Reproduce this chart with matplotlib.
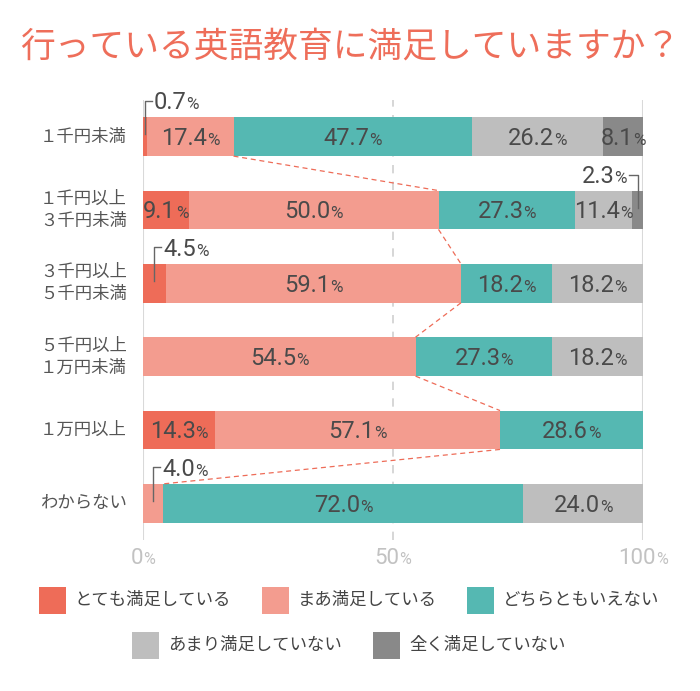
import numpy as np
import matplotlib
matplotlib.use('Agg')
import matplotlib.pyplot as plt
from matplotlib.patches import Rectangle

# data (percent per row, top to bottom)
categories = ['１千円未満', '１千円以上\n３千円未満', '３千円以上\n５千円未満',
              '５千円以上\n１万円未満', '１万円以上', 'わからない']
series_names = ['とても満足している', 'まあ満足している', 'どちらともいえない',
                'あまり満足していない', '全く満足していない']
very_satisfied = [0.7, 9.1, 4.5, 0.0, 14.3, 0.0]
fairly_satisfied = [17.4, 50.0, 59.1, 54.5, 57.1, 4.0]
neutral = [47.7, 27.3, 18.2, 27.3, 28.6, 72.0]
not_really = [26.2, 11.4, 18.2, 18.2, 0.0, 24.0]
not_at_all = [8.1, 2.3, 0.0, 0.0, 0.0, 0.0]
x_ticks = [0, 50, 100]

colors = ['#EE6C58', '#F39C8F', '#55B8B2', '#BEBEBE', '#898989']
title = '行っている英語教育に満足していますか？'

plt.rcParams['font.family'] = ['Noto Sans CJK JP', 'DejaVu Sans']

fig = plt.figure(figsize=(7, 6.91), dpi=100)
ax = fig.add_axes([143 / 700, 151 / 691, 500 / 700, 440 / 691])
ax.set_xlim(0, 100)
ax.set_ylim(5.5, -0.5)
ax.axis('off')

# grid lines at 0 / 50 / 100
ax.axvline(0, color='#D9D9D9', lw=1.5, zorder=0)
ax.axvline(100, color='#D9D9D9', lw=1.5, zorder=0)
ax.axvline(50, color='#CFCFCF', lw=1.2, ls=(0, (5, 5)), zorder=0)

label_color = '#4A4A4A'
pct_texts = []


def pct_label(x, y, num, mode, size, color, xycoords='data'):
    """number followed by a smaller % sign; placed after a first draw"""
    kw = dict(xy=(x, y), xycoords=xycoords, textcoords='offset points',
              va='baseline', ha='left', color=color, family='Roboto',
              zorder=5, annotation_clip=False)
    t1 = ax.annotate(num, xytext=(0, 0), fontsize=size, **kw)
    t2 = ax.annotate('%', xytext=(0, 0), fontsize=size * 0.72, **kw)
    pct_texts.append((t1, t2, mode, size))


bar_h = 0.53
data = [very_satisfied, fairly_satisfied, neutral, not_really, not_at_all]
y = np.arange(len(categories))
left = np.zeros(len(categories))
for vals, col in zip(data, colors):
    vals = np.array(vals)
    ax.barh(y, vals, left=left, height=bar_h, color=col, lw=0, zorder=2)
    for i, v in enumerate(vals):
        if v == 0:
            continue
        cx = left[i] + v / 2
        txt = '%.1f' % v
        if v >= 5:
            pct_label(cx, i, txt, 'center', 17, label_color)
        elif left[i] + v > 99:
            # small segment at right end: bracket up and to the left
            ty = i - 0.48
            ax.plot([cx, cx, cx - 1.8], [i - 0.03, ty, ty], color='#666666', lw=1, zorder=4)
            pct_label(cx - 2.2, ty, txt, 'right', 17, label_color)
        else:
            # small segment at left: bracket up and to the right
            ty = i - 0.49
            ax.plot([cx, cx, cx + 1.4], [i - 0.03, ty, ty], color='#666666', lw=1, zorder=4)
            pct_label(cx + 1.8, ty, txt, 'left', 17, label_color)
    left += vals

# dashed connectors between the "satisfied" totals
cum2 = np.array(very_satisfied) + np.array(fairly_satisfied)
for i in range(len(categories) - 1):
    ax.plot([cum2[i], cum2[i + 1]], [i + bar_h / 2, i + 1 - bar_h / 2],
            color='#EE6C58', lw=0.9, ls=(0, (4, 3)), zorder=3)

# category labels
for i, cat in enumerate(categories):
    ax.text(-3.2, i, cat, ha='right', va='center', fontsize=12.5,
            color='#555555', linespacing=1.3)

# x tick labels
for t in x_ticks:
    pct_label(t, -0.036, str(t), 'center', 16, '#C2C2C2', xycoords=('data', 'axes fraction'))

# title
fig.text(0.5, 1 - 47 / 691, title, ha='center', va='center', fontsize=25, color='#EE6E5A')

# legend drawn by hand: 3 items on first row, 2 centred on second
legend_pos = [(39, 600), (262, 600), (467, 600), (132, 645), (373, 645)]
sq = 27
for (px, py), name, col in zip(legend_pos, series_names, colors):
    fig.patches.append(Rectangle((px / 700, (691 - py - sq / 2) / 691), sq / 700, sq / 691,
                                 transform=fig.transFigure, color=col, lw=0))
    fig.text((px + sq + 9) / 700, 1 - py / 691, name, ha='left', va='center',
             fontsize=12.5, color='#444444')

# place the number + % pairs
fig.canvas.draw()
r = fig.canvas.get_renderer()
for t1, t2, mode, size in pct_texts:
    w1 = t1.get_window_extent(r).width * 72 / fig.dpi
    w2 = t2.get_window_extent(r).width * 72 / fig.dpi
    gap = 0.0
    tot = w1 + gap + w2
    start = {'center': -tot / 2, 'left': 0, 'right': -tot}[mode]
    dy = -0.355 * size
    t1.xyann = (start, dy)
    t2.xyann = (start + w1 + gap, dy)

fig.savefig('out.png', dpi=100)
